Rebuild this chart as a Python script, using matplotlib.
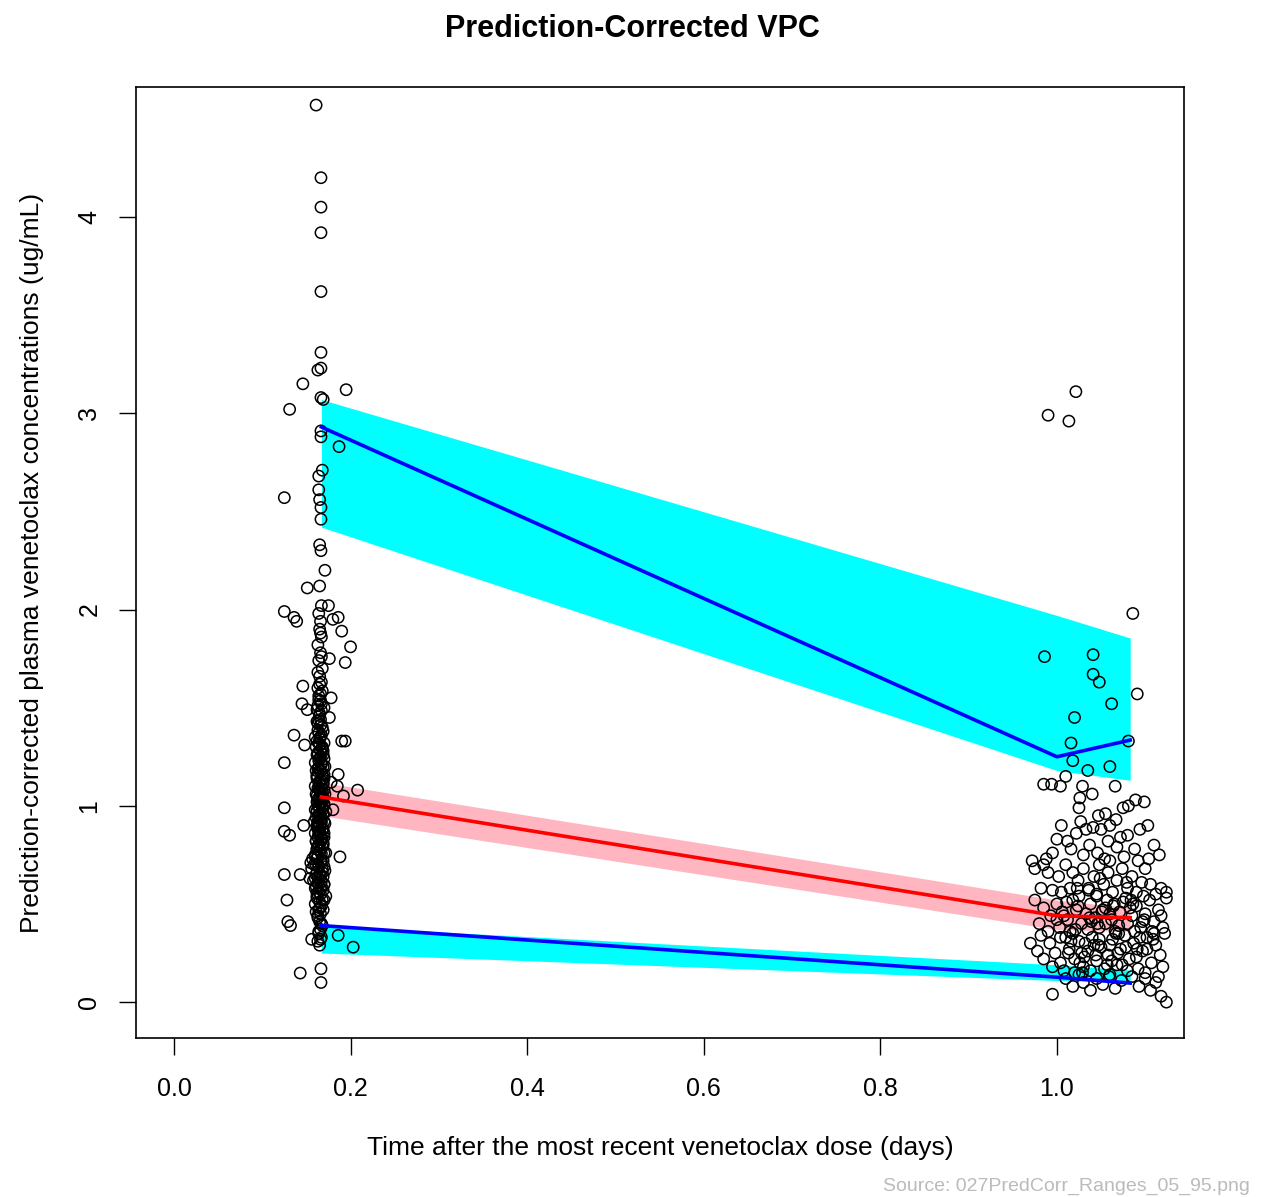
import matplotlib
matplotlib.use("Agg")
import matplotlib.pyplot as plt

plt.rcParams["font.family"] = ["Liberation Sans", "DejaVu Sans"]

# Bins du VPC (temps en jours)
bin_x = [0.167, 1.0, 1.083]
# Percentile 95 : IC et mediane simulee
p95_lo = [2.42, 1.18, 1.13]
p95_hi = [3.07, 1.97, 1.855]
p95_line = [2.93, 1.25, 1.335]
# Mediane
p50_lo = [0.95, 0.37, 0.36]
p50_hi = [1.12, 0.52, 0.48]
p50_line = [1.045, 0.44, 0.43]
# Percentile 5
p05_lo = [0.25, 0.11, 0.10]
p05_hi = [0.39, 0.19, 0.163]
p05_line = [0.39, 0.127, 0.097]

# Observations, premier prelevement : colonne dense
col_x = [0.165, 0.163, 0.167, 0.164, 0.166, 0.168, 0.165, 0.163, 0.166, 0.164,
         0.167, 0.165, 0.162, 0.166, 0.164, 0.160, 0.167, 0.163, 0.158, 0.166,
         0.161, 0.168, 0.156, 0.164, 0.159, 0.167, 0.157, 0.163, 0.160, 0.166,
         0.162, 0.168, 0.164, 0.161, 0.167, 0.163, 0.166, 0.164, 0.168, 0.162,
         0.165, 0.163, 0.167, 0.164, 0.166, 0.162, 0.168, 0.165, 0.163, 0.167,
         0.164, 0.166, 0.162, 0.168, 0.165, 0.163, 0.167, 0.164, 0.166, 0.162,
         0.168, 0.165, 0.163, 0.167, 0.164, 0.166, 0.163, 0.168, 0.165, 0.162,
         0.166, 0.164, 0.168, 0.163, 0.166, 0.165, 0.162, 0.167, 0.164, 0.166,
         0.163, 0.167, 0.165, 0.168, 0.164, 0.166, 0.163, 0.167, 0.165, 0.166,
         0.164, 0.167, 0.170, 0.171, 0.155, 0.172, 0.169, 0.170, 0.171, 0.169,
         0.170, 0.171, 0.169, 0.172, 0.154, 0.159, 0.172, 0.170, 0.171, 0.169]
col_y = [0.29, 0.31, 0.33, 0.35, 0.37, 0.39, 0.41, 0.43, 0.45, 0.47,
         0.49, 0.51, 0.53, 0.55, 0.56, 0.58, 0.59, 0.61, 0.62, 0.64,
         0.65, 0.66, 0.68, 0.69, 0.70, 0.72, 0.73, 0.74, 0.75, 0.77,
         0.78, 0.79, 0.80, 0.82, 0.83, 0.84, 0.85, 0.87, 0.88, 0.89,
         0.90, 0.92, 0.93, 0.94, 0.95, 0.97, 0.98, 0.99, 1.00, 1.02,
         1.03, 1.04, 1.05, 1.07, 1.08, 1.09, 1.10, 1.12, 1.13, 1.15,
         1.16, 1.18, 1.19, 1.21, 1.23, 1.25, 1.27, 1.29, 1.31, 1.33,
         1.35, 1.37, 1.40, 1.42, 1.44, 1.47, 1.49, 1.52, 1.54, 1.57,
         1.60, 1.63, 1.66, 1.70, 1.74, 1.78, 1.82, 1.86, 1.90, 1.94,
         1.98, 2.02, 0.60, 0.67, 0.71, 0.76, 0.81, 0.86, 0.91, 0.96,
         1.01, 1.06, 1.11, 0.54, 0.63, 0.92, 0.97, 1.14, 1.20, 1.26]

# colonne dense, points supplementaires (zone la plus chargee)
col2_x = [0.166, 0.164, 0.167, 0.163, 0.165, 0.168, 0.162, 0.166, 0.164, 0.167,
          0.163, 0.165, 0.168, 0.164, 0.166, 0.162, 0.167, 0.165, 0.163, 0.166,
          0.168, 0.164, 0.165, 0.163, 0.167, 0.166, 0.164, 0.162, 0.168, 0.165,
          0.163, 0.167, 0.166, 0.164, 0.165, 0.168, 0.162, 0.166, 0.164, 0.167,
          0.165, 0.163, 0.166, 0.168, 0.164, 0.165, 0.167, 0.163, 0.166, 0.164,
          0.165, 0.167, 0.163, 0.166, 0.164, 0.168, 0.165, 0.163, 0.167, 0.166]
col2_y = [0.32, 0.36, 0.40, 0.44, 0.48, 0.52, 0.555, 0.575, 0.595, 0.615,
          0.635, 0.655, 0.675, 0.695, 0.715, 0.735, 0.755, 0.775, 0.795, 0.815,
          0.835, 0.855, 0.875, 0.895, 0.915, 0.935, 0.955, 0.975, 0.995, 1.015,
          1.035, 1.055, 1.075, 1.095, 1.115, 1.135, 1.155, 1.175, 1.195, 1.22,
          1.24, 1.26, 1.28, 1.30, 1.32, 1.34, 1.36, 1.385, 1.41, 1.435,
          1.46, 1.485, 1.51, 1.535, 1.56, 1.585, 1.62, 1.68, 1.76, 1.88]
col3_x = [0.161, 0.169, 0.160, 0.170, 0.162, 0.169, 0.161, 0.170, 0.160, 0.169,
          0.162, 0.170, 0.161, 0.169, 0.160, 0.170, 0.162, 0.169, 0.161, 0.170,
          0.160, 0.169, 0.162, 0.170, 0.161, 0.169, 0.160, 0.170, 0.162, 0.169,
          0.161, 0.170, 0.160, 0.169, 0.162, 0.170, 0.161, 0.169, 0.160, 0.170,
          0.162, 0.169, 0.161, 0.170, 0.160, 0.169, 0.162, 0.170]
col3_y = [0.46, 0.47, 0.50, 0.52, 0.54, 0.57, 0.59, 0.60, 0.63, 0.64,
          0.66, 0.69, 0.70, 0.72, 0.74, 0.76, 0.78, 0.80, 0.82, 0.84,
          0.86, 0.88, 0.90, 0.92, 0.94, 0.96, 0.98, 1.00, 1.02, 1.04,
          1.06, 1.08, 1.10, 1.12, 1.14, 1.16, 1.18, 1.20, 1.22, 1.24,
          1.26, 1.28, 1.30, 1.32, 1.35, 1.38, 1.43, 1.50]

# Observations, premier prelevement : points isoles
early_x = [0.161, 0.1665, 0.1665, 0.1665, 0.1665, 0.1665, 0.1665, 0.163, 0.146, 0.195,
           0.131, 0.1665, 0.169, 0.1665, 0.1665, 0.187, 0.164, 0.168, 0.125, 0.164,
           0.165, 0.1665, 0.1665, 0.165, 0.1665, 0.171, 0.151, 0.165, 0.125, 0.136,
           0.139, 0.186, 0.190, 0.200, 0.194, 0.146, 0.125, 0.136, 0.148, 0.190,
           0.194, 0.145, 0.151, 0.208, 0.186, 0.125, 0.147, 0.125, 0.131, 0.188,
           0.125, 0.143, 0.128, 0.129, 0.132, 0.203, 0.143, 0.1665, 0.1665, 0.156,
           0.186, 0.185, 0.192, 0.180, 0.178, 0.176, 0.178, 0.176, 0.180, 0.175]
early_y = [4.57, 4.20, 4.05, 3.92, 3.62, 3.31, 3.23, 3.22, 3.15, 3.12,
           3.02, 3.08, 3.07, 2.91, 2.88, 2.83, 2.68, 2.71, 2.57, 2.61,
           2.56, 2.52, 2.46, 2.33, 2.30, 2.20, 2.11, 2.12, 1.99, 1.96,
           1.94, 1.96, 1.89, 1.81, 1.73, 1.61, 1.22, 1.36, 1.31, 1.33,
           1.33, 1.52, 1.49, 1.08, 1.16, 0.99, 0.90, 0.87, 0.85, 0.74,
           0.65, 0.65, 0.52, 0.41, 0.39, 0.28, 0.148, 0.17, 0.10, 0.32,
           0.34, 1.10, 1.05, 0.98, 1.12, 1.45, 1.55, 1.75, 1.95, 2.02]

# Observations, second prelevement (~1 jour)
late_x = [0.990, 1.0136, 1.0215, 1.086, 0.986, 1.041, 1.041, 1.048, 1.062, 1.091,
          1.020, 1.016, 1.018, 1.035, 1.081, 1.060,
          0.985, 0.994, 1.004, 1.029, 1.026, 1.025, 1.066, 1.089, 1.081, 1.099,
          1.047, 1.055, 1.067, 1.040, 1.075, 1.010,
          1.027, 1.033, 1.041, 1.050, 1.012, 1.005, 0.995, 0.988, 1.000, 1.016,
          1.037, 1.046, 1.058, 1.068, 1.080, 1.094, 1.103, 1.088, 1.110, 1.116,
          1.022, 1.060, 1.072, 1.030, 1.054,
          0.972, 0.975, 0.985, 0.990, 1.002, 1.010, 1.018, 1.024, 1.030, 1.036,
          1.042, 1.048, 1.053, 1.058, 1.063, 1.068, 1.074, 1.080, 1.085, 1.090,
          1.096, 1.100, 1.106, 1.112, 1.118, 1.124, 0.982, 0.995, 1.005, 1.015,
          1.045, 1.060, 1.076, 1.092, 1.104,
          0.975, 0.985, 0.993, 1.000, 1.006, 1.012, 1.018, 1.022, 1.028, 1.033,
          1.038, 1.043, 1.048, 1.052, 1.057, 1.062, 1.066, 1.071, 1.075, 1.080,
          1.085, 1.090, 1.095, 1.100, 1.105, 1.110, 1.115, 1.120, 1.124, 0.980,
          0.990, 1.003, 1.015, 1.025, 1.035, 1.045, 1.055, 1.065, 1.078, 1.088,
          1.098, 1.108, 1.118, 1.000, 1.060,
          0.970, 0.978, 0.985, 0.992, 0.998, 1.004, 1.010, 1.014, 1.020, 1.025,
          1.030, 1.035, 1.040, 1.045, 1.050, 1.054, 1.058, 1.063, 1.068, 1.072,
          1.077, 1.082, 1.087, 1.092, 1.097, 1.102, 1.107, 1.112, 1.117, 1.122,
          0.982, 0.995, 1.008, 1.018, 1.028, 1.038, 1.048, 1.060, 1.070, 1.080,
          1.090, 1.100, 1.110, 1.120, 1.032,
          0.995, 1.010, 1.018, 1.025, 1.030, 1.038, 1.045, 1.052, 1.060, 1.066,
          1.073, 1.085, 1.093, 1.100, 1.106, 1.112, 1.118, 1.124, 1.115, 1.020,
          1.008, 1.016, 1.024, 1.031, 1.039, 1.047, 1.055, 1.062, 1.070, 1.078,
          1.086, 1.094, 1.102, 1.013, 1.021, 1.029, 1.037, 1.044, 1.051, 1.059,
          1.067, 1.074, 1.083, 1.091, 1.099, 1.109, 1.004, 1.026, 1.042, 1.057,
          1.036, 1.049, 1.064, 1.079, 1.023, 1.011, 1.046, 1.069, 1.084, 1.097]
late_y = [2.99, 2.96, 3.11, 1.98, 1.76, 1.77, 1.67, 1.63, 1.52, 1.57,
          1.45, 1.32, 1.23, 1.18, 1.33, 1.20,
          1.11, 1.11, 1.10, 1.10, 1.04, 0.99, 1.10, 1.03, 1.00, 1.02,
          0.95, 0.96, 0.93, 1.06, 0.99, 1.15,
          0.92, 0.88, 0.89, 0.88, 0.82, 0.90, 0.76, 0.73, 0.83, 0.78,
          0.80, 0.76, 0.82, 0.79, 0.85, 0.88, 0.90, 0.78, 0.80, 0.75,
          0.86, 0.90, 0.84, 0.75, 0.73,
          0.72, 0.68, 0.70, 0.66, 0.64, 0.70, 0.66, 0.62, 0.68, 0.58,
          0.64, 0.70, 0.60, 0.66, 0.56, 0.62, 0.68, 0.58, 0.64, 0.56,
          0.61, 0.68, 0.60, 0.55, 0.58, 0.56, 0.58, 0.57, 0.56, 0.58,
          0.55, 0.72, 0.74, 0.72, 0.73,
          0.52, 0.48, 0.44, 0.50, 0.46, 0.42, 0.52, 0.47, 0.40, 0.45,
          0.50, 0.43, 0.38, 0.47, 0.52, 0.42, 0.36, 0.46, 0.51, 0.40,
          0.44, 0.49, 0.38, 0.45, 0.52, 0.41, 0.47, 0.38, 0.53, 0.40,
          0.36, 0.38, 0.36, 0.54, 0.37, 0.54, 0.40, 0.50, 0.53, 0.36,
          0.54, 0.36, 0.44, 0.42, 0.45,
          0.30, 0.26, 0.22, 0.30, 0.25, 0.20, 0.33, 0.27, 0.22, 0.31,
          0.18, 0.26, 0.33, 0.21, 0.28, 0.17, 0.24, 0.32, 0.19, 0.27,
          0.34, 0.22, 0.30, 0.17, 0.26, 0.33, 0.20, 0.29, 0.24, 0.35,
          0.34, 0.18, 0.16, 0.35, 0.25, 0.16, 0.32, 0.29, 0.35, 0.16,
          0.23, 0.15, 0.35, 0.18, 0.30,
          0.04, 0.12, 0.08, 0.14, 0.10, 0.06, 0.12, 0.09, 0.14, 0.07,
          0.11, 0.13, 0.08, 0.12, 0.06, 0.10, 0.03, 0.00, 0.13, 0.15,
          0.44, 0.31, 0.49, 0.23, 0.41, 0.29, 0.48, 0.21, 0.39, 0.28,
          0.50, 0.33, 0.27, 0.25, 0.37, 0.15, 0.43, 0.24, 0.46, 0.13,
          0.35, 0.19, 0.48, 0.27, 0.42, 0.32, 0.33, 0.20, 0.29, 0.19,
          0.57, 0.63, 0.49, 0.61, 0.58, 0.51, 0.40, 0.25, 0.52, 0.41]

obs_x = col_x + col2_x + col3_x + early_x + late_x
obs_y = col_y + col2_y + col3_y + early_y + late_y

fig = plt.figure(figsize=(12.65, 11.97), dpi=100)
ax = fig.add_axes([0.1075, 0.1328, 0.8285, 0.7945])

ax.fill_between(bin_x, p95_lo, p95_hi, color="#00FFFF", lw=0)
ax.fill_between(bin_x, p50_lo, p50_hi, color="#FFB6C1", lw=0)
ax.fill_between(bin_x, p05_lo, p05_hi, color="#00FFFF", lw=0)
ax.plot(bin_x, p95_line, color="#0000FF", lw=2.6)
ax.plot(bin_x, p50_line, color="#FF0000", lw=2.6)
ax.plot(bin_x, p05_line, color="#0000FF", lw=2.6)

ax.scatter(obs_x, obs_y, s=66, facecolors="none", edgecolors="black", linewidths=1.1)

ax.set_xlim(-0.043, 1.144)
ax.set_ylim(-0.183, 4.662)
ax.set_xticks([0.0, 0.2, 0.4, 0.6, 0.8, 1.0])
ax.set_xticklabels(["0.0", "0.2", "0.4", "0.6", "0.8", "1.0"])
ax.set_yticks([0, 1, 2, 3, 4])
ax.tick_params(axis="both", direction="out", length=12, width=1, labelsize=18, pad=16)
ax.tick_params(axis="y", pad=13)
plt.setp(ax.get_yticklabels(), rotation=90, va="center")
for s in ax.spines.values():
    s.set_linewidth(1.2)

ax.set_xlabel("Time after the most recent venetoclax dose (days)", fontsize=19, labelpad=25)
ax.set_ylabel("Prediction-corrected plasma venetoclax concentrations (ug/mL)", fontsize=19,
              labelpad=24)
fig.suptitle("Prediction-Corrected VPC", fontsize=22, fontweight="bold", y=0.988)
fig.text(0.988, 0.0085, "Source: 027PredCorr_Ranges_05_95.png", color="#bbbbbb",
         fontsize=14, ha="right", va="center")

fig.savefig("out.png", dpi=100)
